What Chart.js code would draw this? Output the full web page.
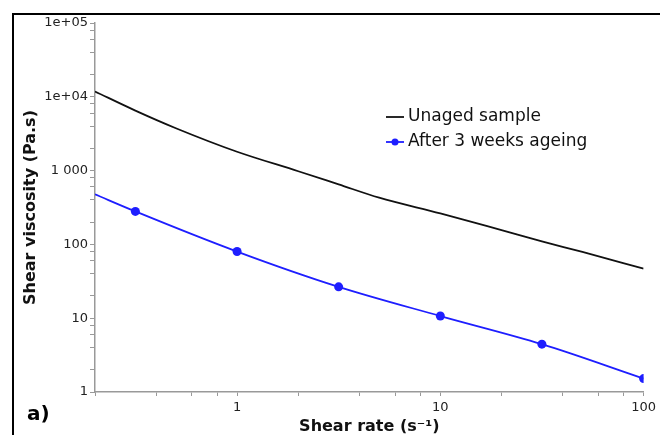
<!DOCTYPE html>
<html>
<head>
<meta charset="utf-8">
<script src="https://cdn.jsdelivr.net/npm/chart.js@4.4.1/dist/chart.umd.min.js"></script>
<style>
  body { margin: 0; background: #fff; }
  #wrap { position: relative; width: 660px; height: 435px; }
  #frame { position: absolute; left: 12px; top: 13px; right: 0; bottom: 0;
           border-top: 2px solid #000; border-left: 2px solid #000; pointer-events: none; }
</style>
</head>
<body>
<div id="wrap">
  <canvas id="myChart" width="660" height="435"></canvas>
  <div id="frame"></div>
</div>
<script>
// shear rate (s-1) grid used for both curves
const unagedRate = [0.2, 0.316, 0.5, 1, 2, 3.16, 5, 10, 20, 31.6, 50, 100];
const unagedVisc = [11800, 6500, 3750, 1800, 980, 650, 430, 263, 156, 110, 79, 47];

const agedRate = [0.2, 0.316, 1, 3.16, 10, 31.6, 100];
const agedVisc = [477, 280, 80, 26.6, 10.7, 4.45, 1.52];

const seriesLabels = ['Unaged sample', 'After 3 weeks ageing'];

const xTickValues = [0.2, 0.4, 0.6, 0.8, 1, 2, 4, 6, 8, 10, 20, 40, 60, 80, 100];
const xMajor = [1, 10, 100];
const xTickLabels = ['1', '10', '100'];

const yTickValues = [1, 2, 4, 6, 8, 10, 20, 40, 60, 80, 100, 200, 400, 600, 800,
  1000, 2000, 4000, 6000, 8000, 10000, 20000, 40000, 60000, 80000, 100000];
const yMajor = [1, 10, 100, 1000, 10000, 100000];
const yTickLabels = ['1', '10', '100', '1 000', '1e+04', '1e+05'];

const panelLabel = 'a)';

function toPoints(xs, ys) {
    return xs.map((x, i) => ({x: x, y: ys[i]}));
}

// legend drawn inside the plot, like the original
const innerLegend = {
    id: 'innerLegend',
    afterDraw(chart) {
        const ctx = chart.ctx;
        const x0 = 386, y0 = 117, gap = 25;
        ctx.save();
        ctx.font = '17px "DejaVu Sans"';
        ctx.textBaseline = 'middle';
        ctx.fillStyle = '#111';
        chart.data.datasets.forEach((ds, i) => {
            const y = y0 + i * gap;
            ctx.strokeStyle = ds.borderColor;
            ctx.lineWidth = 1.8;
            ctx.beginPath();
            ctx.moveTo(x0, y);
            ctx.lineTo(x0 + 18, y);
            ctx.stroke();
            if (i === 1) {
                ctx.fillStyle = ds.backgroundColor;
                ctx.beginPath();
                ctx.arc(x0 + 9, y, 3.5, 0, Math.PI * 2);
                ctx.fill();
                ctx.fillStyle = '#111';
            }
            ctx.fillText(ds.label, x0 + 22, y);
        });
        ctx.font = 'bold 20px "DejaVu Sans"';
        ctx.fillStyle = '#000';
        ctx.fillText(panelLabel, 27, 415);
        ctx.restore();
    }
};

var ctx = document.getElementById('myChart');
var myChart = new Chart(ctx, {
    type: 'line',
    data: {
        datasets: [{
            label: seriesLabels[0],
            data: toPoints(unagedRate, unagedVisc),
            borderColor: '#111111',
            backgroundColor: '#111111',
            borderWidth: 1.8,
            pointRadius: 0,
            cubicInterpolationMode: 'monotone',
        }, {
            label: seriesLabels[1],
            data: toPoints(agedRate, agedVisc),
            borderColor: '#1e1eff',
            backgroundColor: '#1e1eff',
            borderWidth: 1.8,
            pointRadius: agedRate.map((v, i) => i === 0 ? 0 : 4.5),
            pointBorderWidth: 0,
            cubicInterpolationMode: 'monotone',
        }]
    },
    options: {
        responsive: false,
        animation: false,
        layout: { padding: { left: 18, top: 23, right: 13, bottom: 0 } },
        plugins: {
            legend: { display: false },
            tooltip: { enabled: false }
        },
        scales: {
            x: {
                type: 'logarithmic',
                min: 0.2,
                max: 100,
                afterBuildTicks: (scale) => { scale.ticks = xTickValues.map(v => ({value: v})); },
                afterFit: (scale) => { scale.height = 43; },
                border: { display: true, color: '#999', width: 1.5 },
                grid: { drawOnChartArea: false, drawTicks: true, tickLength: 4, color: '#999' },
                ticks: {
                    autoSkip: false,
                    maxRotation: 0,
                    padding: 4,
                    color: '#222',
                    font: { family: 'DejaVu Sans', size: 13 },
                    callback: function(value) {
                        const k = xMajor.indexOf(value);
                        return k >= 0 ? xTickLabels[k] : '';
                    }
                },
                title: {
                    display: true,
                    text: 'Shear rate (s\u207B\u00B9)',
                    color: '#111',
                    font: { family: 'DejaVu Sans', size: 16, weight: 'bold', lineHeight: 1 },
                    padding: { top: 0, bottom: 0 }
                }
            },
            y: {
                type: 'logarithmic',
                min: 1,
                max: 100000,
                afterBuildTicks: (scale) => { scale.ticks = yTickValues.map(v => ({value: v})); },
                afterFit: (scale) => { scale.width = 77; },
                border: { display: true, color: '#999', width: 1.5 },
                grid: { drawOnChartArea: false, drawTicks: true, tickLength: 5, color: '#999' },
                ticks: {
                    autoSkip: false,
                    padding: 2,
                    color: '#222',
                    font: { family: 'DejaVu Sans', size: 13 },
                    callback: function(value) {
                        const k = yMajor.indexOf(value);
                        return k >= 0 ? yTickLabels[k] : '';
                    }
                },
                title: {
                    display: true,
                    text: 'Shear viscosity (Pa.s)',
                    color: '#111',
                    font: { family: 'DejaVu Sans', size: 16, weight: 'bold' },
                    padding: { top: 3, bottom: 0 }
                }
            }
        }
    },
    plugins: [innerLegend]
});
</script>
</body>
</html>
